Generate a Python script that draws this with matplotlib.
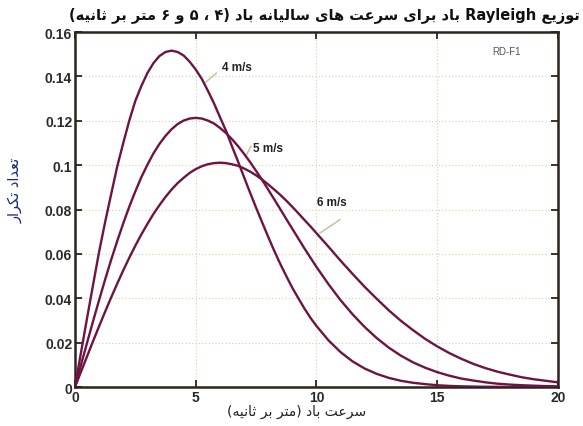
import re
import matplotlib
matplotlib.use("Agg")
import matplotlib.pyplot as plt

# wind speed (m/s) and frequency for the three mean speeds
speed = [0, 0.25, 0.5, 0.75, 1, 1.25, 1.5, 1.75, 2, 2.25, 2.5, 2.75, 3, 3.25, 3.5, 3.75,
         4, 4.25, 4.5, 4.75, 5, 5.25, 5.5, 5.75, 6, 6.25, 6.5, 6.75, 7, 7.25, 7.5, 7.75,
         8, 8.25, 8.5, 8.75, 9, 9.25, 9.5, 9.75, 10, 10.5, 11, 11.5, 12, 12.5, 13, 13.5,
         14, 14.5, 15, 15.5, 16, 16.5, 17, 17.5, 18, 18.5, 19, 19.5, 20]
freq_4 = [0, 0.0156, 0.031, 0.0461, 0.061, 0.0744, 0.087, 0.0994, 0.110, 0.1201, 0.129,
          0.1357, 0.1415, 0.146, 0.1492, 0.151, 0.1516, 0.151, 0.1494, 0.1466, 0.1431,
          0.1389, 0.1336, 0.128, 0.1217, 0.1156, 0.1085, 0.1017, 0.0946, 0.0876, 0.0808,
          0.0742, 0.0677, 0.0614, 0.0555, 0.050, 0.0447, 0.040, 0.0354, 0.0312, 0.0275,
          0.021, 0.0157, 0.0115, 0.0083, 0.0059, 0.0041, 0.0028, 0.0019, 0.0013, 0.0008,
          0.0005, 0.0003, 0.0002, 0.0001, 0.0001, 0, 0, 0, 0, 0]
freq_5 = [0, 0.010, 0.0199, 0.0297, 0.0392, 0.0485, 0.0574, 0.0658, 0.0738, 0.0813,
          0.0882, 0.0946, 0.1002, 0.1053, 0.1096, 0.1132, 0.1162, 0.1185, 0.1201, 0.121,
          0.1213, 0.121, 0.1201, 0.1188, 0.1168, 0.1145, 0.1117, 0.1086, 0.1051, 0.1014,
          0.0974, 0.0933, 0.089, 0.0846, 0.0802, 0.0757, 0.0713, 0.0669, 0.0625, 0.0583,
          0.0541, 0.0463, 0.0391, 0.0327, 0.027, 0.022, 0.0177, 0.0141, 0.0111, 0.0087,
          0.0067, 0.0051, 0.0038, 0.0029, 0.0021, 0.0015, 0.0011, 0.0008, 0.0006, 0.0004,
          0.0003]
freq_6 = [0, 0.0069, 0.0138, 0.0207, 0.0274, 0.034, 0.0404, 0.0466, 0.0526, 0.0583,
          0.0637, 0.0688, 0.0735, 0.078, 0.082, 0.0857, 0.089, 0.0919, 0.0943, 0.0965,
          0.0982, 0.0995, 0.1004, 0.1009, 0.1011, 0.1009, 0.1004, 0.0997, 0.0985, 0.0971,
          0.0954, 0.0935, 0.0913, 0.089, 0.0866, 0.084, 0.0812, 0.0783, 0.0753, 0.0724,
          0.0693, 0.0632, 0.0569, 0.0509, 0.0451, 0.0397, 0.0345, 0.0298, 0.0256, 0.0217,
          0.0183, 0.0153, 0.0127, 0.0104, 0.0085, 0.0069, 0.0056, 0.0044, 0.0035, 0.0028,
          0.0021]

curve_labels = ["4 m/s", "5 m/s", "6 m/s"]
label_pos = [(6.1, 0.1444), (7.37, 0.1076), (10.03, 0.0832)]
leader_lines = [((5.42, 0.1375), (5.85, 0.1414)),
                ((7.1, 0.1046), (7.29, 0.1085)),
                ((10.14, 0.0694), (10.97, 0.0754))]

xticks = [0, 5, 10, 15, 20]
yticks = [0, 0.02, 0.04, 0.06, 0.08, 0.1, 0.12, 0.14, 0.16]
ytick_labels = ["0", "0.02", "0.04", "0.06", "0.08", "0.1", "0.12", "0.14", "0.16"]

title_text = "توزیع Rayleigh باد برای سرعت های سالیانه باد (۴ ، ۵ و ۶ متر بر ثانیه)"
xlabel_text = "سرعت باد (متر بر ثانیه)"
ylabel_text = "تعداد تکرار"

# isolated, final, initial, medial presentation forms
FORMS = {
    "\u0627": "\uFE8D\uFE8E",
    "\u062F": "\uFEA9\uFEAA",
    "\u0631": "\uFEAD\uFEAE",
    "\u0632": "\uFEAF\uFEB0",
    "\u0648": "\uFEED\uFEEE",
    "\u0628": "\uFE8F\uFE90\uFE91\uFE92",
    "\u062A": "\uFE95\uFE96\uFE97\uFE98",
    "\u062B": "\uFE99\uFE9A\uFE9B\uFE9C",
    "\u0633": "\uFEB1\uFEB2\uFEB3\uFEB4",
    "\u0639": "\uFEC9\uFECA\uFECB\uFECC",
    "\u0644": "\uFEDD\uFEDE\uFEDF\uFEE0",
    "\u0645": "\uFEE1\uFEE2\uFEE3\uFEE4",
    "\u0646": "\uFEE5\uFEE6\uFEE7\uFEE8",
    "\u0647": "\uFEE9\uFEEA\uFEEB\uFEEC",
    "\u06CC": "\uFBFC\uFBFD\uFBFE\uFBFF",
    "\u06A9": "\uFB8E\uFB8F\uFB90\uFB91",
}


def persian(s):
    """Shape Persian letters and put the string in visual (left-to-right) order."""
    s = s.replace("\u064A", "\u06CC").replace("\u0643", "\u06A9")
    shaped = []
    for i, ch in enumerate(s):
        f = FORMS.get(ch)
        if f is None:
            shaped.append(ch)
            continue
        prev = s[i - 1] if i > 0 else ""
        nxt = s[i + 1] if i + 1 < len(s) else ""
        jp = prev in FORMS and len(FORMS[prev]) == 4
        jn = len(f) == 4 and nxt in FORMS
        shaped.append(f[{(False, False): 0, (True, False): 1,
                         (False, True): 2, (True, True): 3}[(jp, jn)]])
    shaped = "".join(shaped)
    mirror = str.maketrans("()", ")(")
    parts = re.split(r"([A-Za-z0-9]+)", shaped)
    out = []
    for p in reversed(parts):
        if re.fullmatch(r"[A-Za-z0-9]+", p):
            out.append(p)
        else:
            out.append(p[::-1].translate(mirror))
    return "".join(out)


curve_color = "#6d1443"
dark = "#2b241c"

fig = plt.figure(figsize=(5.83, 4.27), dpi=100)
ax = fig.add_axes([0.1286, 0.0913, 0.8285, 0.8314])

for ys in (freq_4, freq_5, freq_6):
    ax.plot(speed, ys, color=curve_color, lw=1.7, zorder=3)

for text, (tx, ty), (p0, p1) in zip(curve_labels, label_pos, leader_lines):
    ax.text(tx, ty, text, fontsize=8.5, fontweight="bold", family="Liberation Sans",
            color="#222222", ha="left", va="center", zorder=4)
    ax.plot([p0[0], p1[0]], [p0[1], p1[1]], color="#c4c496", lw=1.1, zorder=2)

ax.text(17.26, 0.1513, "RD-F1", fontsize=7, family="Liberation Sans",
        color="#555555", ha="left", va="center")

ax.set_xlim(0, 20)
ax.set_ylim(0, 0.16)
ax.set_xticks(xticks)
ax.set_xticklabels([str(v) for v in xticks])
ax.set_yticks(yticks)
ax.set_yticklabels(ytick_labels)
for lab in ax.get_xticklabels() + ax.get_yticklabels():
    lab.set_family("Liberation Sans")
    lab.set_fontweight("bold")
    lab.set_fontsize(10)
    lab.set_color("#2a2a2a")
ax.tick_params(direction="in", length=5, width=1.3, color=dark,
               top=True, right=True, pad=2)
ax.grid(True, linestyle=(0, (1, 2)), color="#d3d3a2", lw=0.8)
for sp in ax.spines.values():
    sp.set_color(dark)
    sp.set_linewidth(1.8)

fig.text(0.995, 0.962, persian(title_text), fontsize=10.5, fontweight="bold",
         family="DejaVu Sans", color="#111111", ha="right", va="center")
fig.text(0.508, 0.035, persian(xlabel_text), fontsize=10, family="DejaVu Sans",
         color="#222222", ha="center", va="center")
fig.text(0.026, 0.553, persian(ylabel_text), fontsize=10.5, family="DejaVu Sans",
         color="#1f2a6e", ha="center", va="center", rotation=90)

fig.savefig("out.png", dpi=100)
